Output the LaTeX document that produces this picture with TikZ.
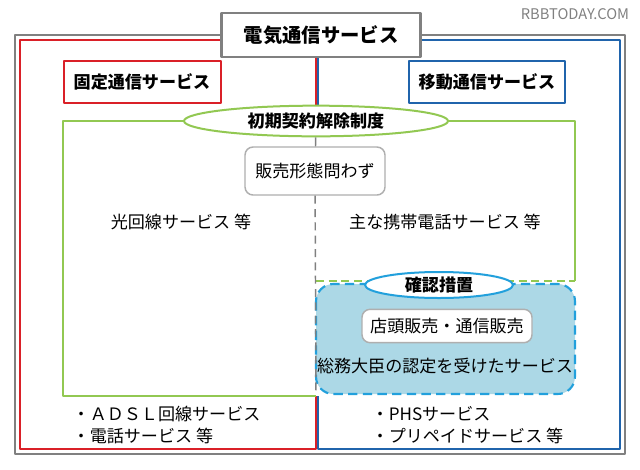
\documentclass[tikz,border=0pt]{standalone}
\usepackage{fontspec}
\setmainfont{Noto Sans CJK JP}
\usetikzlibrary{shapes.geometric}
\definecolor{koteired}{RGB}{218,32,40}
\definecolor{idoublue}{RGB}{32,100,172}
\definecolor{seidogreen}{RGB}{146,200,82}
\definecolor{kakuninblue}{RGB}{34,160,220}
\definecolor{kakuninfill}{RGB}{172,216,230}
\definecolor{framegray}{RGB}{128,128,128}
\definecolor{boxgray}{RGB}{175,175,175}

\begin{document}
\begin{tikzpicture}[x=0.75pt,y=-0.75pt,line join=round,
  body/.style={font=\fontsize{12.8}{15}\selectfont},
  title/.style={draw,fill=white,line width=1.5pt,inner sep=0pt,font=\bfseries\fontsize{12.8}{15}\selectfont},
  oval/.style={title,ellipse,text height=10.5pt,text depth=1.1pt},
  softbox/.style={draw=boxgray,fill=white,line width=1.1pt,rounded corners=6pt,inner sep=0pt,font=\fontsize{12.8}{15}\selectfont}]
\useasboundingbox (0,0) rectangle (640,469);
\node[text=gray,font=\fontsize{11}{12}\selectfont] (wmark) at (575,14) {RBBTODAY.COM};
% outer frames
\draw[framegray,line width=1.9pt] (15,35) rectangle (625,454);
\draw[koteired,line width=1.5pt] (20,40) rectangle (316,449);
\draw[idoublue,line width=1.5pt] (318,40) rectangle (620,449);
% cancellation frame
\fill[white] (63,121) rectangle (575,396);
\draw[seidogreen,line width=1.5pt]
    (316,396) -- (63,396) -- (63,121) -- (575,121) -- (575,281);
\draw[seidogreen,line width=1.5pt,dash pattern=on 6pt off 3.5pt] (316,281) -- (575,281);
\draw[kakuninblue,fill=kakuninfill,line width=1.6pt,dash pattern=on 7pt off 4pt,rounded corners=13pt]
    (316,284) rectangle (575,394);
\coordinate (axisbot) at (316,394);
% nodes
\node[title,draw=framegray,line width=1.9pt,minimum width=149pt,minimum height=33pt,font=\bfseries\fontsize{14.5}{16}\selectfont] (denki) at (321,35) {電気通信サービス};
\node[title,draw=koteired,minimum width=117.75pt,minimum height=31pt] (kotei) at (142,82) {固定通信サービス};
\node[title,draw=idoublue,minimum width=117pt,minimum height=31pt] (idou) at (487,82) {移動通信サービス};
\node[oval,draw=seidogreen,minimum width=198pt,minimum height=23pt] (seido) at (316,121) {初期契約解除制度};
\node[softbox,minimum width=105pt,minimum height=36pt] (keitai) at (315,171) {販売形態問わず};
\node[oval,draw=kakuninblue,minimum width=111pt,minimum height=19.5pt] (kakunin) at (439,285) {確認措置};
\node[softbox,minimum width=127.5pt,minimum height=25pt] (tento) at (447,326) {店頭販売・通信販売};
\node[body] (nintei) at (445,366) {総務大臣の認定を受けたサービス};
\node[body] (hikari) at (181,222) {光回線サービス 等};
\node[body] (keitaiden) at (445,222) {主な携帯電話サービス 等};
\node[body,anchor=west] (adsl) at (68,414) {・ＡＤＳＬ回線サービス};
\node[body,anchor=west] (denwa) at (68,436) {・電話サービス 等};
\node[body,anchor=west] (phs) at (367,414) {・PHSサービス};
\node[body,anchor=west] (prepaid) at (367,436) {・プリペイドサービス 等};
% connectors
\draw[framegray,line width=1.1pt] (seido) -- (keitai);
\draw[framegray,line width=1.1pt,dash pattern=on 6pt off 4pt] (keitai) -- (axisbot);
\end{tikzpicture}
\end{document}
